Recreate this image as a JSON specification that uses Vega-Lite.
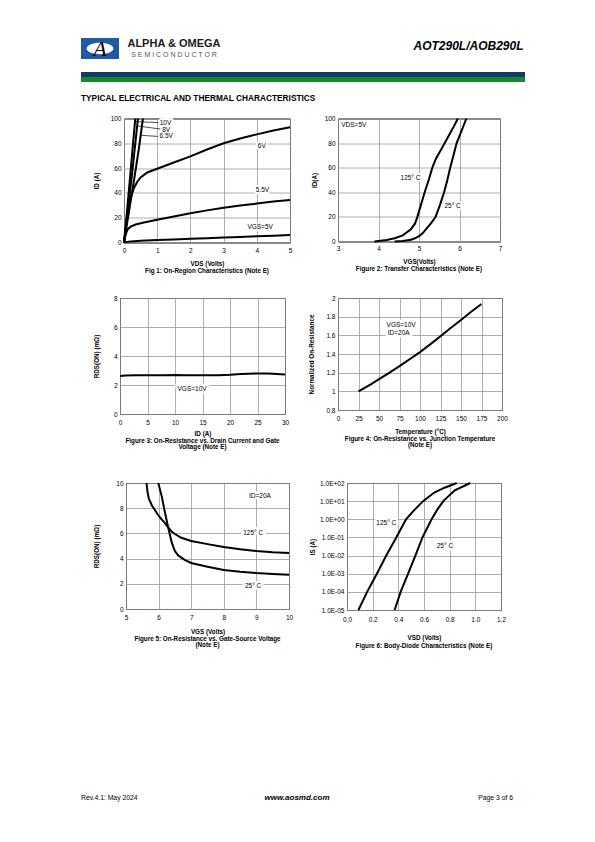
{
"$schema":"https://vega.github.io/schema/vega-lite/v6.json",
"padding":{"left":81,"top":37,"right":5,"bottom":5},
"config":{
  "font":"Liberation Sans",
  "view":{"stroke":"#000","strokeWidth":1},
  "axis":{"labelFont":"Liberation Sans","labelFontSize":6.5,"labelColor":"#000","titleFont":"Liberation Sans","titleFontSize":6.3,"titleFontWeight":"bold","titleColor":"#000","domain":false,"ticks":false,"labelPadding":4,"gridColor":"#999","gridWidth":0.8,"grid":true,"labelFlush":false,"labelOverlap":false,"tickCount":30},
  "title":{"font":"Liberation Sans","fontSize":6.3,"fontWeight":"bold","color":"#000"},
  "text":{"font":"Liberation Sans"},
  "line":{"color":"#000","strokeWidth":2,"clip":true}
},
"datasets":{
  "logo":[{"glyph":"A"}],
  "brand":[{"line":1,"label":"ALPHA & OMEGA"},{"line":2,"label":"S E M I C O N D U C T O R"}],
  "part":[{"label":"AOT290L/AOB290L"}],
  "bands":[{"band":"navy"},{"band":"green"}],
  "footer":[{"slot":"l","label":"Rev.4.1: May 2024"},{"slot":"c","label":"www.aosmd.com"},{"slot":"r","label":"Page 3 of 6"}],
  "f1":[
    {"s":"5V","x":0,"y":0},{"s":"5V","x":0.2,"y":0.9},{"s":"5V","x":0.5,"y":1.4},{"s":"5V","x":1,"y":2},{"s":"5V","x":1.5,"y":2.5},{"s":"5V","x":2,"y":3},{"s":"5V","x":2.5,"y":3.5},{"s":"5V","x":3,"y":4},{"s":"5V","x":3.5,"y":4.5},{"s":"5V","x":4,"y":5},{"s":"5V","x":4.5,"y":5.5},{"s":"5V","x":5,"y":6.1},
    {"s":"5.5V","x":0,"y":0},{"s":"5.5V","x":0.03,"y":4},{"s":"5.5V","x":0.07,"y":8},{"s":"5.5V","x":0.12,"y":11},{"s":"5.5V","x":0.2,"y":12.8},{"s":"5.5V","x":0.35,"y":14.5},{"s":"5.5V","x":0.6,"y":16.2},{"s":"5.5V","x":1,"y":18.3},{"s":"5.5V","x":1.5,"y":21},{"s":"5.5V","x":2,"y":23.6},{"s":"5.5V","x":2.5,"y":25.9},{"s":"5.5V","x":3,"y":28},{"s":"5.5V","x":3.5,"y":29.8},{"s":"5.5V","x":4,"y":31.4},{"s":"5.5V","x":4.5,"y":33},{"s":"5.5V","x":5,"y":34.3},
    {"s":"6V","x":0,"y":0},{"s":"6V","x":0.05,"y":10},{"s":"6V","x":0.1,"y":20},{"s":"6V","x":0.15,"y":29},{"s":"6V","x":0.2,"y":36},{"s":"6V","x":0.3,"y":44},{"s":"6V","x":0.4,"y":49},{"s":"6V","x":0.5,"y":52.5},{"s":"6V","x":0.7,"y":56.5},{"s":"6V","x":1,"y":59.5},{"s":"6V","x":1.5,"y":64.5},{"s":"6V","x":2,"y":69.5},{"s":"6V","x":2.5,"y":75},{"s":"6V","x":3,"y":80},{"s":"6V","x":3.5,"y":83.8},{"s":"6V","x":4,"y":87.2},{"s":"6V","x":4.5,"y":90.3},{"s":"6V","x":5,"y":93},
    {"s":"6.5V","x":0,"y":0},{"s":"6.5V","x":0.15,"y":25},{"s":"6.5V","x":0.3,"y":50},{"s":"6.5V","x":0.45,"y":76},{"s":"6.5V","x":0.57,"y":100},
    {"s":"8V","x":0,"y":0},{"s":"8V","x":0.12,"y":27},{"s":"8V","x":0.25,"y":57},{"s":"8V","x":0.42,"y":100},
    {"s":"10V","x":0,"y":0},{"s":"10V","x":0.1,"y":28},{"s":"10V","x":0.2,"y":58},{"s":"10V","x":0.34,"y":100}
  ],
  "f1lab":[{"t":"10V","x":1.25,"y":96.5},{"t":"8V","x":1.27,"y":91},{"t":"6.5V","x":1.27,"y":85.5},{"t":"6V","x":4.15,"y":78},{"t":"5.5V","x":4.17,"y":42},{"t":"VGS=5V","x":4.1,"y":12.7}],
  "f1lead":[{"x":0.33,"y":97.5,"x2":1.05,"y2":96.7},{"x":0.4,"y":94,"x2":1.1,"y2":91.5},{"x":0.49,"y":86.5,"x2":1.04,"y2":85.5}],
  "f2":[
    {"s":"125","x":3.9,"y":0},{"s":"125","x":4.0,"y":0.4},{"s":"125","x":4.2,"y":1.2},{"s":"125","x":4.4,"y":2.6},{"s":"125","x":4.6,"y":5},{"s":"125","x":4.8,"y":10},{"s":"125","x":4.9,"y":14.5},{"s":"125","x":4.96,"y":20},{"s":"125","x":5.05,"y":30},{"s":"125","x":5.14,"y":40},{"s":"125","x":5.24,"y":50},{"s":"125","x":5.33,"y":60},{"s":"125","x":5.42,"y":67.5},{"s":"125","x":5.55,"y":75},{"s":"125","x":5.7,"y":84},{"s":"125","x":5.85,"y":93},{"s":"125","x":5.96,"y":100},
    {"s":"25","x":4.4,"y":0},{"s":"25","x":4.6,"y":0.4},{"s":"25","x":4.8,"y":1.5},{"s":"25","x":4.9,"y":2.6},{"s":"25","x":5.0,"y":4.3},{"s":"25","x":5.1,"y":7},{"s":"25","x":5.2,"y":11},{"s":"25","x":5.3,"y":15},{"s":"25","x":5.41,"y":20},{"s":"25","x":5.52,"y":30},{"s":"25","x":5.62,"y":40},{"s":"25","x":5.7,"y":50},{"s":"25","x":5.77,"y":60},{"s":"25","x":5.85,"y":70},{"s":"25","x":5.93,"y":80},{"s":"25","x":6.05,"y":90},{"s":"25","x":6.17,"y":100}
  ],
  "f2lab":[{"t":"VDS=5V","x":3.39,"y":94.6},{"t":"125° C","x":4.79,"y":51.5},{"t":"25° C","x":5.83,"y":28.6}],
  "f3":[{"x":0,"y":2.62},{"x":1,"y":2.66},{"x":3,"y":2.68},{"x":5,"y":2.68},{"x":8,"y":2.67},{"x":10,"y":2.69},{"x":12,"y":2.68},{"x":15,"y":2.67},{"x":18,"y":2.68},{"x":20,"y":2.71},{"x":22,"y":2.76},{"x":25,"y":2.8},{"x":27,"y":2.79},{"x":30,"y":2.72}],
  "f3lab":[{"t":"VGS=10V","x":13.1,"y":1.75}],
  "f4":[{"x":25,"y":1.0},{"x":40,"y":1.075},{"x":50,"y":1.13},{"x":60,"y":1.185},{"x":75,"y":1.27},{"x":90,"y":1.36},{"x":100,"y":1.42},{"x":112,"y":1.5},{"x":125,"y":1.59},{"x":137,"y":1.675},{"x":150,"y":1.765},{"x":162,"y":1.85},{"x":175,"y":1.935}],
  "f4lab":[{"t":"VGS=10V","x":77,"y":1.715},{"t":"ID=20A","x":74,"y":1.63}],
  "f5":[
    {"s":"125","x":5.63,"y":10},{"s":"125","x":5.66,"y":9.3},{"s":"125","x":5.7,"y":8.75},{"s":"125","x":5.8,"y":8.2},{"s":"125","x":5.9,"y":7.8},{"s":"125","x":6.0,"y":7.4},{"s":"125","x":6.1,"y":7.1},{"s":"125","x":6.2,"y":6.8},{"s":"125","x":6.3,"y":6.45},{"s":"125","x":6.4,"y":6.15},{"s":"125","x":6.5,"y":5.95},{"s":"125","x":6.7,"y":5.65},{"s":"125","x":7,"y":5.4},{"s":"125","x":7.5,"y":5.15},{"s":"125","x":8,"y":4.92},{"s":"125","x":8.5,"y":4.75},{"s":"125","x":9,"y":4.6},{"s":"125","x":9.5,"y":4.5},{"s":"125","x":10,"y":4.45},
    {"s":"25","x":5.99,"y":10},{"s":"25","x":6.1,"y":8.9},{"s":"25","x":6.2,"y":7.6},{"s":"25","x":6.3,"y":6.4},{"s":"25","x":6.4,"y":5.3},{"s":"25","x":6.5,"y":4.6},{"s":"25","x":6.6,"y":4.25},{"s":"25","x":6.8,"y":3.9},{"s":"25","x":7,"y":3.65},{"s":"25","x":7.5,"y":3.35},{"s":"25","x":8,"y":3.1},{"s":"25","x":8.5,"y":2.95},{"s":"25","x":9,"y":2.85},{"s":"25","x":9.5,"y":2.78},{"s":"25","x":10,"y":2.72}
  ],
  "f5lab":[{"t":"ID=20A","x":9.11,"y":8.94},{"t":"125° C","x":8.9,"y":6.05},{"t":"25° C","x":8.9,"y":1.8}],
  "f6":[
    {"s":"125","x":0.089,"y":1e-5},{"s":"125","x":0.157,"y":1e-4},{"s":"125","x":0.233,"y":1e-3},{"s":"125","x":0.306,"y":1e-2},{"s":"125","x":0.384,"y":1e-1},{"s":"125","x":0.46,"y":1},{"s":"125","x":0.52,"y":3},{"s":"125","x":0.593,"y":10},{"s":"125","x":0.68,"y":30},{"s":"125","x":0.76,"y":55},{"s":"125","x":0.855,"y":100},
    {"s":"25","x":0.371,"y":1e-5},{"s":"25","x":0.418,"y":1e-4},{"s":"25","x":0.476,"y":1e-3},{"s":"25","x":0.533,"y":1e-2},{"s":"25","x":0.588,"y":1e-1},{"s":"25","x":0.659,"y":1},{"s":"25","x":0.705,"y":3.5},{"s":"25","x":0.75,"y":10},{"s":"25","x":0.84,"y":40},{"s":"25","x":0.96,"y":100}
  ],
  "f6lab":[{"t":"125° C","x":0.306,"y":0.66},{"t":"25° C","x":0.763,"y":0.035}]
},
"spacing":144,
"vconcat":[
 {"spacing":26,"vconcat":[
  {"spacing":18,"vconcat":[
   {"spacing":10.5,"vconcat":[
    {"spacing":12,"vconcat":[
     {"spacing":191,"hconcat":[
       {"spacing":7,"hconcat":[
         {"width":38,"height":21,"view":{"fill":"#1f5aa6","stroke":null},"data":{"name":"logo"},
          "layer":[
            {"mark":{"type":"point","shape":"M-1.3,0A1.3,0.55 0 1,0 1.3,0A1.3,0.55 0 1,0 -1.3,0Z","size":420,"fill":"#fff","filled":true,"opacity":1,"strokeWidth":0},"encoding":{}},
            {"mark":{"type":"text","font":"Liberation Serif","fontStyle":"italic","fontSize":22,"fill":"#000"},"encoding":{"text":{"field":"glyph"}}}
          ]},
         {"width":96,"height":22,"view":{"stroke":null},"data":{"name":"brand"},
          "encoding":{"y":{"field":"line","type":"ordinal","axis":null}},
          "layer":[
            {"transform":[{"filter":"datum.line == 1"}],"mark":{"type":"text","fontSize":11,"fontWeight":"bold","fill":"#1a1a1a"},"encoding":{"text":{"field":"label"}}},
            {"transform":[{"filter":"datum.line == 2"}],"mark":{"type":"text","fontSize":7,"fill":"#555"},"encoding":{"text":{"field":"label"}}}
          ]}
       ]},
       {"width":111,"height":16,"view":{"stroke":null},"data":{"name":"part"},
        "mark":{"type":"text","fontSize":12,"fontWeight":"bold","fontStyle":"italic","fill":"#000"},
        "encoding":{"text":{"field":"label"}}}
     ]},
     {"width":444,"height":10,"view":{"stroke":null},"data":{"name":"bands"},
      "title":{"text":"TYPICAL ELECTRICAL AND THERMAL CHARACTERISTICS","orient":"bottom","anchor":"start","fontSize":8.3,"offset":12},
      "mark":"rect",
      "encoding":{"y":{"field":"band","type":"nominal","sort":["navy","green"],"axis":null,"scale":{"paddingInner":0,"paddingOuter":0}},
                  "color":{"field":"band","type":"nominal","scale":{"domain":["navy","green"],"range":["#0f3a6b","#14882a"]},"legend":null}}}
    ]},
    {"spacing":0,"hconcat":[
      {"width":11,"height":1,"view":{"stroke":null},"data":{"values":[]},"mark":"point","encoding":{}},
      {"spacing":15,"hconcat":[
        {"width":166,"height":124,
         "title":{"text":"Fig 1: On-Region Characteristics (Note E)","orient":"bottom","offset":2},
         "layer":[
           {"data":{"name":"f1"},"mark":{"type":"line"},"encoding":{
             "x":{"field":"x","type":"quantitative","scale":{"domain":[0,5],"nice":false},"axis":{"title":"VDS (Volts)","values":[0,1,2,3,4,5],"format":"d","tickCount":30,"labelPadding":5,"titlePadding":6}},
             "y":{"field":"y","type":"quantitative","scale":{"domain":[0,100],"nice":false},"axis":{"title":"ID (A)","values":[0,20,40,60,80,100],"format":"d","tickCount":30,"titlePadding":11,"labelPadding":3}},
             "detail":{"field":"s","type":"nominal"}}},
           {"data":{"name":"f1lead"},"mark":{"type":"rule","color":"#000","strokeWidth":0.7},"encoding":{"x":{"field":"x","type":"quantitative"},"y":{"field":"y","type":"quantitative"},"x2":{"field":"x2"},"y2":{"field":"y2"}}},
           {"data":{"name":"f1lab"},"mark":{"type":"text","fontSize":6.5,"stroke":"#fff","strokeWidth":4,"strokeJoin":"round"},"encoding":{"x":{"field":"x","type":"quantitative"},"y":{"field":"y","type":"quantitative"},"text":{"field":"t"}}},
           {"data":{"name":"f1lab"},"mark":{"type":"text","fontSize":6.5,"fill":"#000"},"encoding":{"x":{"field":"x","type":"quantitative"},"y":{"field":"y","type":"quantitative"},"text":{"field":"t"}}}
         ]},
        {"width":162,"height":123,
         "title":{"text":"Figure 2: Transfer Characteristics (Note E)","orient":"bottom","offset":2},
         "layer":[
           {"data":{"name":"f2"},"mark":{"type":"line"},"encoding":{
             "x":{"field":"x","type":"quantitative","scale":{"domain":[3,7],"nice":false},"axis":{"title":"VGS(Volts)","values":[3,4,5,6,7],"format":"d","tickCount":30,"labelPadding":4,"titlePadding":6}},
             "y":{"field":"y","type":"quantitative","scale":{"domain":[0,100],"nice":false},"axis":{"title":"ID(A)","values":[0,20,40,60,80,100],"format":"d","tickCount":30,"titlePadding":7,"labelPadding":3}},
             "detail":{"field":"s","type":"nominal"}}},
           {"data":{"name":"f2lab"},"mark":{"type":"text","fontSize":6.5,"stroke":"#fff","strokeWidth":4,"strokeJoin":"round"},"encoding":{"x":{"field":"x","type":"quantitative"},"y":{"field":"y","type":"quantitative"},"text":{"field":"t"}}},
           {"data":{"name":"f2lab"},"mark":{"type":"text","fontSize":6.5,"fill":"#000"},"encoding":{"x":{"field":"x","type":"quantitative"},"y":{"field":"y","type":"quantitative"},"text":{"field":"t"}}}
         ]}
      ]}
    ]}
   ]},
   {"spacing":0,"hconcat":[
     {"width":11,"height":1,"view":{"stroke":null},"data":{"values":[]},"mark":"point","encoding":{}},
     {"spacing":18,"hconcat":[
       {"width":165,"height":116,
        "title":{"text":["Figure 3: On-Resistance vs. Drain Current and Gate","Voltage (Note E)"],"orient":"bottom","offset":1,"lineHeight":6.5},
        "layer":[
          {"data":{"name":"f3"},"mark":{"type":"line"},"encoding":{
            "x":{"field":"x","type":"quantitative","scale":{"domain":[0,30],"nice":false},"axis":{"title":"ID (A)","values":[0,5,10,15,20,25,30],"format":"d","tickCount":30,"labelPadding":5,"titlePadding":5}},
            "y":{"field":"y","type":"quantitative","scale":{"domain":[0,8],"nice":false},"axis":{"title":"RDS(ON) (mΩ)","values":[0,2,4,6,8],"format":"d","tickCount":30,"titlePadding":14,"labelPadding":3}}}},
          {"data":{"name":"f3lab"},"mark":{"type":"text","fontSize":6.5,"stroke":"#fff","strokeWidth":5,"strokeJoin":"round"},"encoding":{"x":{"field":"x","type":"quantitative"},"y":{"field":"y","type":"quantitative"},"text":{"field":"t"}}},
          {"data":{"name":"f3lab"},"mark":{"type":"text","fontSize":6.5,"fill":"#000"},"encoding":{"x":{"field":"x","type":"quantitative"},"y":{"field":"y","type":"quantitative"},"text":{"field":"t"}}}
        ]},
       {"width":164,"height":112,
        "title":{"text":["Figure 4: On-Resistance vs. Junction Temperature","(Note E)"],"orient":"bottom","offset":1,"lineHeight":6.5},
        "layer":[
          {"data":{"name":"f4"},"mark":{"type":"line"},"encoding":{
            "x":{"field":"x","type":"quantitative","scale":{"domain":[0,200],"nice":false},"axis":{"title":"Temperature (°C)","values":[0,25,50,75,100,125,150,175,200],"format":"d","tickCount":30,"labelPadding":5,"titlePadding":7}},
            "y":{"field":"y","type":"quantitative","scale":{"domain":[0.8,2],"nice":false,"zero":false},"axis":{"title":"Normalized On-Resistance","values":[0.8,1,1.2,1.4,1.6,1.8,2],"tickCount":30,"format":"~g","titlePadding":11,"labelPadding":3}}}},
          {"data":{"name":"f4lab"},"mark":{"type":"text","fontSize":6.5,"stroke":"#fff","strokeWidth":5,"strokeJoin":"round"},"encoding":{"x":{"field":"x","type":"quantitative"},"y":{"field":"y","type":"quantitative"},"text":{"field":"t"}}},
          {"data":{"name":"f4lab"},"mark":{"type":"text","fontSize":6.5,"fill":"#000"},"encoding":{"x":{"field":"x","type":"quantitative"},"y":{"field":"y","type":"quantitative"},"text":{"field":"t"}}}
        ]}
     ]}
   ]}
  ]},
  {"spacing":0,"hconcat":[
    {"width":11,"height":1,"view":{"stroke":null},"data":{"values":[]},"mark":"point","encoding":{}},
    {"spacing":15,"hconcat":[
      {"width":163,"height":126,
       "title":{"text":["Figure 5: On-Resistance vs. Gate-Source Voltage","(Note E)"],"orient":"bottom","offset":1,"lineHeight":6.5},
       "layer":[
         {"data":{"name":"f5"},"mark":{"type":"line"},"encoding":{
           "x":{"field":"x","type":"quantitative","scale":{"domain":[5,10],"nice":false,"zero":false},"axis":{"title":"VGS (Volts)","values":[5,6,7,8,9,10],"format":"d","tickCount":30,"labelPadding":5,"titlePadding":8}},
           "y":{"field":"y","type":"quantitative","scale":{"domain":[0,10],"nice":false},"axis":{"title":"RDS(ON) (mΩ)","values":[0,2,4,6,8,10],"format":"d","tickCount":30,"titlePadding":16.5,"labelPadding":3}},
           "detail":{"field":"s","type":"nominal"}}},
         {"data":{"name":"f5lab"},"mark":{"type":"text","fontSize":6.5,"stroke":"#fff","strokeWidth":5,"strokeJoin":"round"},"encoding":{"x":{"field":"x","type":"quantitative"},"y":{"field":"y","type":"quantitative"},"text":{"field":"t"}}},
         {"data":{"name":"f5lab"},"mark":{"type":"text","fontSize":6.5,"fill":"#000"},"encoding":{"x":{"field":"x","type":"quantitative"},"y":{"field":"y","type":"quantitative"},"text":{"field":"t"}}}
       ]},
      {"width":154,"height":127,
       "title":{"text":"Figure 6: Body-Diode Characteristics (Note E)","orient":"bottom","offset":2},
       "layer":[
         {"data":{"name":"f6"},"mark":{"type":"line"},"encoding":{
           "x":{"field":"x","type":"quantitative","scale":{"domain":[0,1.2],"nice":false},"axis":{"title":"VSD (Volts)","values":[0,0.2,0.4,0.6,0.8,1,1.2],"tickCount":30,"format":".1f","labelPadding":6,"titlePadding":12}},
           "y":{"field":"y","type":"quantitative","scale":{"type":"log","domain":[0.00001,100],"nice":false},"axis":{"title":"IS (A)","values":[0.00001,0.0001,0.001,0.01,0.1,1,10,100],"tickCount":30,"labelExpr":"'1.0E' + (round(log(datum.value)/LN10) >= 0 ? '+' : '-') + '0' + abs(round(log(datum.value)/LN10))","titlePadding":4,"labelPadding":3}},
           "detail":{"field":"s","type":"nominal"}}},
         {"data":{"name":"f6lab"},"mark":{"type":"text","fontSize":6.5,"stroke":"#fff","strokeWidth":5,"strokeJoin":"round"},"encoding":{"x":{"field":"x","type":"quantitative"},"y":{"field":"y","type":"quantitative"},"text":{"field":"t"}}},
         {"data":{"name":"f6lab"},"mark":{"type":"text","fontSize":6.5,"fill":"#000"},"encoding":{"x":{"field":"x","type":"quantitative"},"y":{"field":"y","type":"quantitative"},"text":{"field":"t"}}}
       ]}
    ]}
  ]}
 ]},
 {"width":432,"height":8,"view":{"stroke":null},"data":{"name":"footer"},
  "encoding":{"x":{"field":"slot","type":"nominal","scale":{"type":"point","padding":0,"domain":["l","c","r"]},"axis":null}},
  "layer":[
    {"transform":[{"filter":"datum.slot == 'l'"}],"mark":{"type":"text","align":"left","fontSize":6.8,"fill":"#000"},"encoding":{"text":{"field":"label"}}},
    {"transform":[{"filter":"datum.slot == 'c'"}],"mark":{"type":"text","align":"center","fontSize":8,"fontWeight":"bold","fontStyle":"italic","fill":"#000"},"encoding":{"text":{"field":"label"}}},
    {"transform":[{"filter":"datum.slot == 'r'"}],"mark":{"type":"text","align":"right","fontSize":6.8,"fill":"#000"},"encoding":{"text":{"field":"label"}}}
  ]}
]
}
